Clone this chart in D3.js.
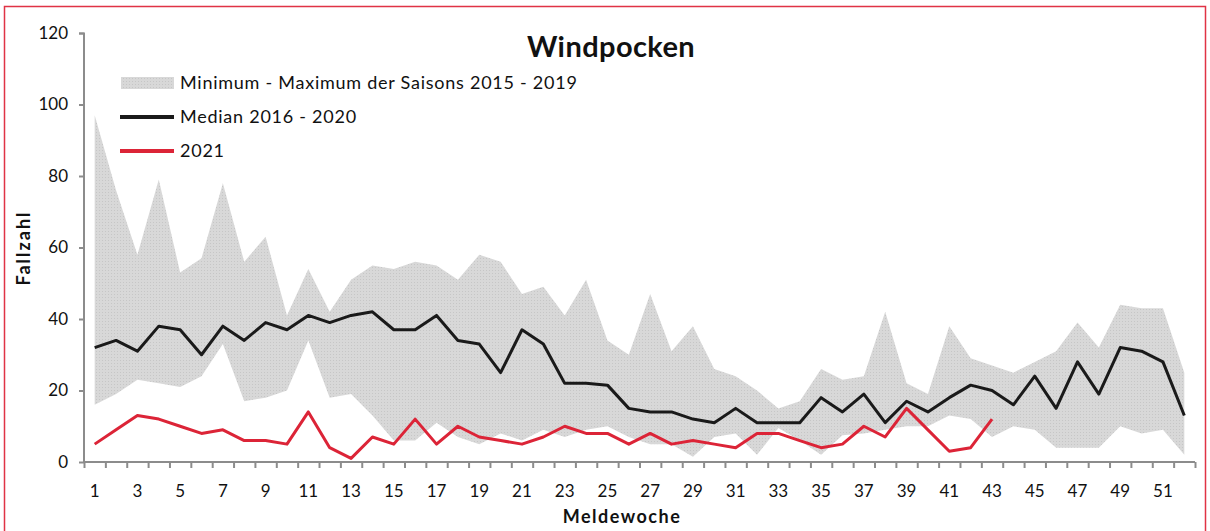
<!DOCTYPE html>
<html>
<head>
<meta charset="utf-8">
<script src="https://cdn.jsdelivr.net/npm/d3@7"></script>
<style>
  body { margin: 0; background: #fff; }
  svg text { font-family: Lato, "Open Sans", sans-serif; fill: #111; }
</style>
</head>
<body>
<div id="chart"></div>
<script>
/*
    Data
*/
var weeks = d3.range(1, 53);
var maxVals = [97, 76, 58, 79, 53, 57, 78, 56, 63, 41, 54, 42, 51, 55, 54, 56, 55, 51, 58, 56,
               47, 49, 41, 51, 34, 30, 47, 31, 38, 26, 24, 20, 15, 17, 26, 23, 24, 42, 22, 19,
               38, 29, 27, 25, 28, 31, 39, 32, 44, 43, 43, 25];
var minVals = [16, 19, 23, 22, 21, 24, 33, 17, 18, 20, 34, 18, 19, 13, 6, 6, 11, 7, 5, 8,
               6, 9, 7, 9, 10, 7, 5, 5, 1.5, 7, 8, 2, 9.5, 6, 2, 7.5, 8, 9, 10, 10,
               13, 12, 7, 10, 9, 4, 4, 4, 10, 8, 9, 2];
var medianVals = [32, 34, 31, 38, 37, 30, 38, 34, 39, 37, 41, 39, 41, 42, 37, 37, 41, 34, 33, 25,
                  37, 33, 22, 22, 21.5, 15, 14, 14, 12, 11, 15, 11, 11, 11, 18, 14, 19, 11, 17, 14,
                  18, 21.5, 20, 16, 24, 15, 28, 19, 32, 31, 28, 13];
var vals2021 = [5, 9, 13, 12, 10, 8, 9, 6, 6, 5, 14, 4, 1, 7, 5, 12, 5, 10, 7, 6,
                5, 7, 10, 8, 8, 5, 8, 5, 6, 5, 4, 8, 8, 6, 4, 5, 10, 7, 15, 9,
                3, 4, 12];
var yTicks = [0, 20, 40, 60, 80, 100, 120];
var xLabels = weeks.filter(function (w) { return w % 2 == 1; });

var legendItems = [
    { label: "Minimum - Maximum der Saisons 2015 - 2019", type: "area" },
    { label: "Median 2016 - 2020", type: "line", color: "#1a1a1a" },
    { label: "2021", type: "line", color: "#dc2437" }
];

var width = 1210;
var height = 531;

var svg = d3.select("#chart")
    .append("svg")
    .attr("width", width)
    .attr("height", height);

/* fine dotted fill like the original area */
var pat = svg.append("defs").append("pattern")
    .attr("id", "dots")
    .attr("width", 3)
    .attr("height", 3)
    .attr("patternUnits", "userSpaceOnUse");
pat.append("rect").attr("width", 3).attr("height", 3).attr("fill", "#d8d8d8");
pat.append("rect").attr("width", 1).attr("height", 1).attr("fill", "#c6c6c6");

/* red frame */
svg.append("rect")
    .attr("x", 4.5)
    .attr("y", 6.5)
    .attr("width", 1201)
    .attr("height", 600)
    .attr("fill", "none")
    .attr("stroke", "#e03345")
    .attr("stroke-width", 1.5);

var x = d3.scaleLinear().domain([0.5, 52.5]).range([84, 1195]);
var y = d3.scaleLinear().domain([0, 120]).range([462, 33]);

/* min - max band */
var area = d3.area()
    .x(function (d, i) { return x(weeks[i]); })
    .y0(function (d, i) { return y(minVals[i]); })
    .y1(function (d) { return y(d); });

svg.append("path")
    .datum(maxVals)
    .attr("d", area)
    .attr("fill", "url(#dots)");

/* axes */
var yAxis = svg.append("g")
    .attr("transform", "translate(84,0)")
    .call(d3.axisLeft(y).tickValues(yTicks).tickSize(5).tickPadding(11));

var xAxis = svg.append("g")
    .attr("transform", "translate(0,462)")
    .call(d3.axisBottom(x).tickValues(d3.range(0.5, 53, 1)).tickSize(6).tickFormat(""));

[yAxis, xAxis].forEach(function (g) {
    g.select(".domain").attr("stroke", "#8c8c8c").attr("stroke-width", 2);
    g.selectAll(".tick line").attr("stroke", "#8c8c8c").attr("stroke-width", 2);
});
yAxis.select(".domain").attr("d", "M-5,33.5H0V462");
xAxis.select(".domain").attr("d", "M84,0H1195");
yAxis.selectAll(".tick text")
    .style("font-size", "17px")
    .style("font-family", "Lato, sans-serif")
    .attr("fill", "#111");

svg.append("g").selectAll("text")
    .data(xLabels)
    .enter().append("text")
    .attr("x", function (d) { return x(d); })
    .attr("y", 497)
    .attr("text-anchor", "middle")
    .style("font-size", "17px")
    .text(function (d) { return d; });

/* lines */
var line = d3.line()
    .x(function (d, i) { return x(weeks[i]); })
    .y(function (d) { return y(d); });

svg.append("path")
    .datum(medianVals)
    .attr("d", line)
    .attr("fill", "none")
    .attr("stroke", legendItems[1].color)
    .attr("stroke-width", 3)
    .attr("stroke-linejoin", "round");

svg.append("path")
    .datum(vals2021)
    .attr("d", line)
    .attr("fill", "none")
    .attr("stroke", legendItems[2].color)
    .attr("stroke-width", 3)
    .attr("stroke-linejoin", "round");

/* title and axis titles */
svg.append("text")
    .attr("x", 611)
    .attr("y", 57)
    .attr("text-anchor", "middle")
    .style("font-size", "29px")
    .style("font-weight", "bold")
    .style("letter-spacing", "0.4px")
    .text("Windpocken");

svg.append("text")
    .attr("transform", "translate(30,248) rotate(-90)")
    .attr("text-anchor", "middle")
    .style("font-size", "18px")
    .style("font-weight", "bold")
    .style("letter-spacing", "2px")
    .text("Fallzahl");

svg.append("text")
    .attr("x", 622)
    .attr("y", 523)
    .attr("text-anchor", "middle")
    .style("font-size", "18px")
    .style("font-weight", "bold")
    .style("letter-spacing", "1.5px")
    .text("Meldewoche");

/* legend */
var legend = svg.append("g");
legendItems.forEach(function (item, i) {
    var cy = 83 + i * 34;
    if (item.type == "area") {
        legend.append("rect")
            .attr("x", 121).attr("y", cy - 6)
            .attr("width", 53).attr("height", 12)
            .attr("fill", "url(#dots)");
    } else {
        legend.append("line")
            .attr("x1", 120).attr("x2", 174)
            .attr("y1", cy).attr("y2", cy)
            .attr("stroke", item.color)
            .attr("stroke-width", 4);
    }
    legend.append("text")
        .attr("x", 180)
        .attr("y", cy + 6)
        .style("font-size", "18px")
        .style("letter-spacing", "0.75px")
        .text(item.label);
});
</script>
</body>
</html>
